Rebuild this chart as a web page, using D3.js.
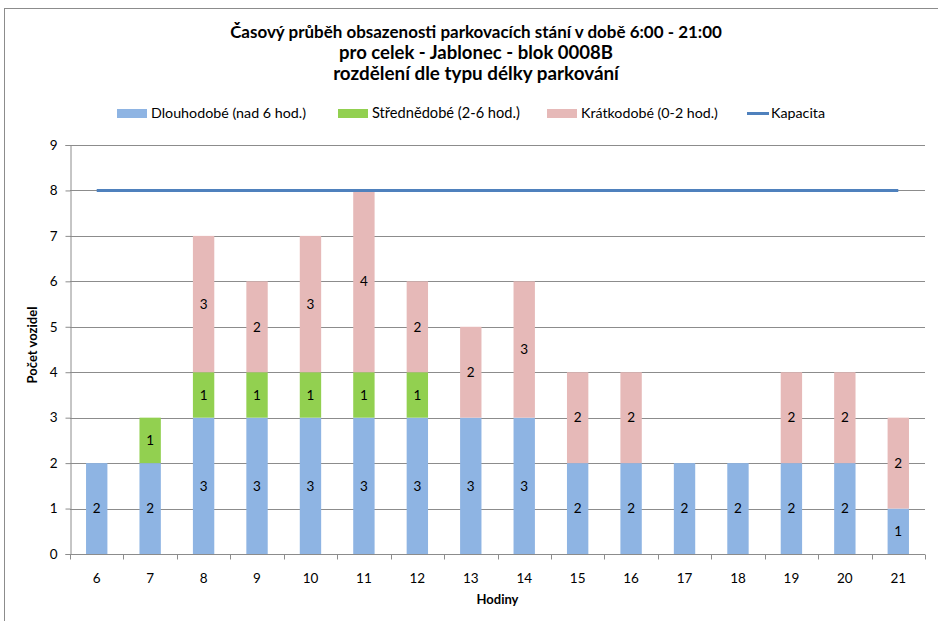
<!DOCTYPE html>
<html>
<head>
<meta charset="utf-8">
<script src="https://cdn.jsdelivr.net/npm/d3@7"></script>
<style>
  body { margin: 0; background: #fff; }
  svg text { font-family: Lato, "Open Sans", sans-serif; fill: #000; }
</style>
</head>
<body>
<div id="chart"></div>
<script>
// data
const hours = ["6","7","8","9","10","11","12","13","14","15","16","17","18","19","20","21"];
const longTerm = [2,2,3,3,3,3,3,3,3,2,2,2,2,2,2,1];
const midTerm = [0,1,1,1,1,1,1,0,0,0,0,0,0,0,0,0];
const shortTerm = [0,0,3,2,3,4,2,2,3,2,2,0,0,2,2,2];
const capacity = [8,8,8,8,8,8,8,8,8,8,8,8,8,8,8,8];
const seriesNames = ["Dlouhodobé (nad 6 hod.)", "Střednědobé (2-6 hod.)", "Krátkodobé (0-2 hod.)"];
const seriesColors = ["#8EB4E3", "#92D050", "#E6B9B8"];
const yTicks = [0,1,2,3,4,5,6,7,8,9];
const titleLines = ["Časový průběh obsazenosti parkovacích stání v době 6:00 - 21:00",
                    "pro celek - Jablonec - blok 0008B",
                    "rozdělení dle typu délky parkování"];

const width = 938, height = 621;
const margin = {top: 145, right: 13, bottom: 67, left: 70};

const svg = d3.select("#chart")
  .append("svg")
  .attr("width", width)
  .attr("height", height);

// shrink/grow a text's font so it spans about the given width
function fitWidth(sel, target) {
  sel.each(function() {
    const fs = parseFloat(this.getAttribute("font-size"));
    const w = this.getComputedTextLength();
    if (w > 0) this.setAttribute("font-size", (fs * target / w).toFixed(2) + "px");
  });
}

// chart border (only top and left visible in the picture)
svg.append("rect")
  .attr("x", 4.5).attr("y", 8.5)
  .attr("width", 960).attr("height", 660)
  .attr("fill", "none")
  .attr("stroke", "#8c8c8c")
  .attr("stroke-width", 1);

// stack the three series
const rows = hours.map((h, i) => ({hour: h, s0: longTerm[i], s1: midTerm[i], s2: shortTerm[i]}));
const stacked = d3.stack().keys(["s0","s1","s2"])(rows);

const x = d3.scaleBand()
  .domain(hours)
  .range([margin.left, width - margin.right])
  .paddingInner(0.6)
  .paddingOuter(0.3);

const y = d3.scaleLinear()
  .domain([0, 9])
  .range([height - margin.bottom, margin.top]);

// gridlines
svg.append("g")
  .selectAll("line")
  .data(yTicks.slice(1))
  .enter()
  .append("line")
  .attr("x1", margin.left)
  .attr("x2", width - margin.right)
  .attr("y1", (d) => Math.round(y(d)) + 0.5)
  .attr("y2", (d) => Math.round(y(d)) + 0.5)
  .attr("stroke", "#8c8c8c")
  .attr("stroke-width", 1);

// bars
const layers = svg.append("g")
  .selectAll("g")
  .data(stacked)
  .enter()
  .append("g")
  .attr("fill", (d, i) => seriesColors[i]);

layers.selectAll("rect")
  .data((d) => d.filter((p) => p[1] - p[0] > 0))
  .enter()
  .append("rect")
  .attr("x", (d) => x(d.data.hour))
  .attr("width", x.bandwidth())
  .attr("y", (d) => y(d[1]))
  .attr("height", (d) => y(d[0]) - y(d[1]));

// value labels
layers.selectAll("text")
  .data((d) => d.filter((p) => p[1] - p[0] > 0))
  .enter()
  .append("text")
  .attr("x", (d) => x(d.data.hour) + x.bandwidth() / 2)
  .attr("y", (d) => (y(d[0]) + y(d[1])) / 2)
  .attr("dy", "0.35em")
  .attr("text-anchor", "middle")
  .attr("font-size", "13.5px")
  .text((d) => d[1] - d[0]);

// capacity line
const line = d3.line()
  .x((d, i) => x(hours[i]) + x.bandwidth() / 2)
  .y((d) => y(d));

svg.append("path")
  .datum(capacity)
  .attr("d", line)
  .attr("fill", "none")
  .attr("stroke", "#4F81BD")
  .attr("stroke-width", 3);

// y axis
svg.append("g")
  .attr("transform", `translate(${margin.left + 0.5},0)`)
  .call(d3.axisLeft(y).tickValues(yTicks).tickSize(5).tickPadding(8))
  .call((g) => g.select(".domain").attr("stroke", "#8c8c8c"))
  .call((g) => g.selectAll(".tick line").attr("stroke", "#8c8c8c"))
  .call((g) => g.selectAll(".tick text").attr("font-size", "13.5px").attr("font-family", "Lato"));

// x axis with ticks between categories
const xAxis = svg.append("g")
  .attr("transform", `translate(0,${Math.round(y(0)) + 0.5})`);

xAxis.append("line")
  .attr("x1", margin.left).attr("x2", width - margin.right)
  .attr("stroke", "#8c8c8c");

xAxis.selectAll(".sep")
  .data(d3.range(hours.length + 1))
  .enter()
  .append("line")
  .attr("x1", (d) => Math.round(margin.left + d * (width - margin.left - margin.right) / hours.length) + 0.5)
  .attr("x2", (d) => Math.round(margin.left + d * (width - margin.left - margin.right) / hours.length) + 0.5)
  .attr("y1", 0).attr("y2", 5)
  .attr("stroke", "#8c8c8c");

xAxis.selectAll(".lbl")
  .data(hours)
  .enter()
  .append("text")
  .attr("x", (d) => x(d) + x.bandwidth() / 2)
  .attr("y", 28)
  .attr("text-anchor", "middle")
  .attr("font-size", "13.5px")
  .text((d) => d);

// axis titles
svg.append("text")
  .attr("x", (margin.left + width - margin.right) / 2)
  .attr("y", 604)
  .attr("text-anchor", "middle")
  .attr("font-size", "13px")
  .attr("font-weight", "bold")
  .text("Hodiny");

svg.append("text")
  .attr("transform", `translate(37,345) rotate(-90)`)
  .attr("text-anchor", "middle")
  .attr("font-size", "13px")
  .attr("font-weight", "bold")
  .text("Počet vozidel");

// title
const titleWidths = [492, 274, 286];
svg.append("g")
  .selectAll("text")
  .data(titleLines)
  .enter()
  .append("text")
  .attr("x", 476)
  .attr("y", (d, i) => 38 + i * 21)
  .attr("text-anchor", "middle")
  .attr("font-size", "15px")
  .attr("font-weight", "bold")
  .text((d) => d)
  .each(function(d, i) { fitWidth(d3.select(this), titleWidths[i]); });

// legend
const legendX = [117, 338, 547];
const legendW = [155, 148, 137];
const legend = svg.append("g");
seriesNames.forEach((name, i) => {
  legend.append("rect")
    .attr("x", legendX[i]).attr("y", 109)
    .attr("width", 30).attr("height", 9)
    .attr("fill", seriesColors[i]);
  legend.append("text")
    .attr("x", legendX[i] + 34).attr("y", 118)
    .attr("font-size", "13px")
    .text(name)
    .call(fitWidth, legendW[i]);
});
const legendFont = legend.select("text").attr("font-size");
legend.append("line")
  .attr("x1", 747).attr("x2", 769)
  .attr("y1", 113.5).attr("y2", 113.5)
  .attr("stroke", "#4F81BD")
  .attr("stroke-width", 3);
legend.append("text")
  .attr("x", 771).attr("y", 118)
  .attr("font-size", legendFont)
  .text("Kapacita");
</script>
</body>
</html>
